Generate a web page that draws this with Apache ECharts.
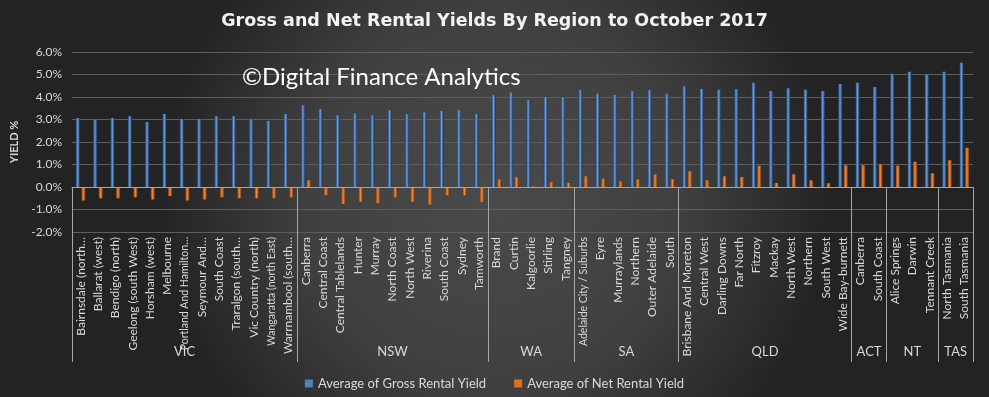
<!DOCTYPE html>
<html>
<head>
<meta charset="utf-8">
<script src="https://cdn.jsdelivr.net/npm/echarts@6/dist/echarts.min.js"></script>
<style>
  html, body { margin: 0; padding: 0; }
  #chart { width: 989px; height: 397px; }
</style>
</head>
<body>
<div id="chart"></div>
<script>
// 数据
var categories = [
    'Bairnsdale (north…', 'Ballarat (west)', 'Bendigo (north)', 'Geelong (south West)', 'Horsham (west)',
    'Melbourne', 'Portland And Hamilton…', 'Seymour And…', 'South Coast', 'Traralgon (south…',
    'Vic Country (north)', 'Wangaratta (north East)', 'Warrnambool (south…',
    'Canberra', 'Central Coast', 'Central Tablelands', 'Hunter', 'Murray', 'North Coast', 'North West',
    'Riverina', 'South Coast', 'Sydney', 'Tamworth',
    'Brand', 'Curtin', 'Kalgoorlie', 'Stirling', 'Tangney',
    'Adelaide City / Suburbs', 'Eyre', 'Murraylands', 'Northern', 'Outer Adelaide', 'South',
    'Brisbane And Moreton', 'Central West', 'Darling Downs', 'Far North', 'Fitzroy', 'Mackay',
    'North West', 'Northern', 'South West', 'Wide Bay-burnett',
    'Canberra', 'South Coast',
    'Alice Springs', 'Darwin', 'Tennant Creek',
    'North Tasmania', 'South Tasmania'
];
var grossYield = [
    3.07, 2.98, 3.07, 3.14, 2.89, 3.25, 3.02, 3.02, 3.14, 3.14, 3.02, 2.93, 3.25,
    3.63, 3.47, 3.19, 3.27, 3.19, 3.42, 3.25, 3.32, 3.38, 3.42, 3.25,
    4.08, 4.20, 3.87, 3.99, 3.99,
    4.30, 4.14, 4.09, 4.26, 4.30, 4.14,
    4.48, 4.36, 4.32, 4.35, 4.63, 4.27, 4.39, 4.32, 4.27, 4.58,
    4.63, 4.45,
    5.03, 5.12, 5.00,
    5.12, 5.52
];
var netYield = [
    -0.60, -0.50, -0.50, -0.45, -0.55, -0.40, -0.60, -0.55, -0.45, -0.50, -0.50, -0.50, -0.45,
    0.30, -0.37, -0.75, -0.65, -0.72, -0.45, -0.65, -0.78, -0.37, -0.37, -0.67,
    0.33, 0.43, 0.02, 0.21, 0.18,
    0.48, 0.37, 0.25, 0.33, 0.56, 0.34,
    0.70, 0.30, 0.48, 0.45, 0.94, 0.18, 0.57, 0.30, 0.17, 0.97,
    0.97, 1.01,
    0.94, 1.12, 0.61,
    1.19, 1.74
];
var regions = ['VIC', 'NSW', 'WA', 'SA', 'QLD', 'ACT', 'NT', 'TAS'];
var regionSizes = [13, 11, 5, 6, 10, 2, 3, 2];
var yMin = -2, yMax = 6, yStep = 1;

(function () {
    var myChart = echarts.init(document.getElementById('chart'));
    var font = 'Lato';

    // 分组轴：半格为单位，边界画刻度，中点写地区名
    var halfSlots = [];
    for (var i = 0; i <= categories.length * 2; i++) halfSlots.push(String(i));
    var boundaries = {0: true};
    var centers = {};
    var pos = 0;
    regionSizes.forEach(function (n, k) {
        centers[pos * 2 + n] = regions[k];
        pos += n;
        boundaries[pos * 2] = true;
    });

    function barGradient(edge, mid, edge2) {
        return new echarts.graphic.LinearGradient(0, 0, 1, 0, [
            {offset: 0, color: edge},
            {offset: 0.45, color: mid},
            {offset: 1, color: edge2}
        ]);
    }

    option = {
        backgroundColor: new echarts.graphic.RadialGradient(0.5, 0.5, 0.85, [
            {offset: 0, color: '#4a4a4a'},
            {offset: 0.55, color: '#404040'},
            {offset: 1, color: '#232323'}
        ]),
        textStyle: {fontFamily: font},
        title: [
            {
                text: 'Gross and Net Rental Yields By Region to October 2017',
                left: 'center',
                top: 7,
                textStyle: {color: '#f2f2f2', fontSize: 17.5, fontWeight: 'bold', fontFamily: 'DejaVu Sans'}
            },
            {
                text: '©Digital Finance Analytics',
                left: 237,
                top: 60,
                textStyle: {color: '#ffffff', fontSize: 24, fontWeight: 'normal', fontFamily: font}
            }
        ],
        legend: {
            data: [
                {name: 'Average of Gross Rental Yield', itemStyle: {color: '#4f81bd'}},
                {name: 'Average of Net Rental Yield', itemStyle: {color: '#e0701e'}}
            ],
            left: 'center',
            top: 372,
            itemWidth: 8,
            itemHeight: 8,
            itemGap: 28,
            icon: 'rect',
            textStyle: {color: '#d9d9d9', fontSize: 13, fontFamily: font}
        },
        grid: [
            {left: 72, right: 16, top: 52, bottom: 165},
            {left: 72, right: 16, top: 187, bottom: 35}
        ],
        xAxis: [
            {
                type: 'category',
                gridIndex: 0,
                data: categories,
                z: 5,
                axisLine: {onZero: true, lineStyle: {color: '#a6a6a6', width: 1}},
                axisTick: {show: false},
                axisLabel: {
                    interval: 0,
                    rotate: 90,
                    margin: 5,
                    color: '#d9d9d9',
                    fontSize: 12,
                    fontFamily: font,
                    // 长标签字号略小，避免压到地区名
                    formatter: function (v) {
                        return v.length > 20 ? '{s|' + v + '}' : v;
                    },
                    rich: {
                        s: {fontSize: 10.5, color: '#d9d9d9', fontFamily: font}
                    }
                }
            },
            {
                type: 'category',
                gridIndex: 1,
                boundaryGap: false,
                data: halfSlots,
                axisLine: {show: false},
                axisTick: {
                    show: true,
                    inside: true,
                    length: 175,
                    interval: function (idx) { return !!boundaries[idx]; },
                    lineStyle: {color: '#a6a6a6', width: 1}
                },
                axisLabel: {
                    inside: true,
                    margin: 4,
                    interval: function (idx) { return !!centers[idx]; },
                    formatter: function (v, idx) { return centers[idx] || ''; },
                    color: '#d9d9d9',
                    fontSize: 13,
                    fontFamily: font
                }
            }
        ],
        yAxis: [
            {
                type: 'value',
                gridIndex: 0,
                min: yMin,
                max: yMax,
                interval: yStep,
                name: 'YIELD %',
                nameLocation: 'middle',
                nameGap: 48,
                nameTextStyle: {color: '#d9d9d9', fontSize: 11, fontWeight: 'bold', fontFamily: font},
                axisLine: {show: false},
                axisTick: {show: false},
                axisLabel: {
                    color: '#d9d9d9',
                    fontSize: 12,
                    margin: 10,
                    formatter: function (v) { return v.toFixed(1) + '%'; }
                },
                splitLine: {lineStyle: {color: '#5e5e5e', width: 1}}
            },
            {type: 'value', gridIndex: 1, show: false}
        ],
        series: [
            {
                name: 'Average of Gross Rental Yield',
                type: 'bar',
                xAxisIndex: 0,
                yAxisIndex: 0,
                barWidth: 4,
                barGap: '40%',
                itemStyle: {color: barGradient('#22406a', '#6a9ddc', '#1a3152')},
                data: grossYield
            },
            {
                name: 'Average of Net Rental Yield',
                type: 'bar',
                xAxisIndex: 0,
                yAxisIndex: 0,
                barWidth: 4,
                itemStyle: {color: barGradient('#8c3c0c', '#ef8d3e', '#7a3308')},
                data: netYield
            }
        ]
    };
    myChart.setOption(option);
    window.addEventListener('resize', function () {
        myChart.resize();
    });
})();
</script>
</body>
</html>
